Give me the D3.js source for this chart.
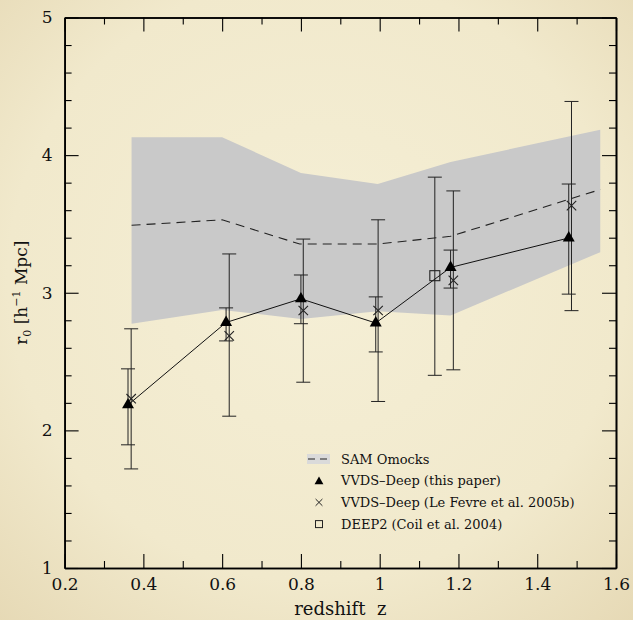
<!DOCTYPE html>
<html><head><meta charset="utf-8">
<script src="https://cdn.jsdelivr.net/npm/d3@7"></script>
<style>body{margin:0;background:#efe6c6;} svg{display:block} .ser{font-family:"DejaVu Serif","Liberation Serif",serif;}</style>
</head><body><svg id="c" width="633" height="620"></svg>
<script>
// ---- data ----
const zBand   = [0.37, 0.60, 0.80, 0.995, 1.18, 1.56];
const bandHi  = [4.13, 4.13, 3.87, 3.79, 3.95, 4.185];
const bandLo  = [2.775, 2.875, 2.81, 2.865, 2.835, 3.295];
const zSam    = [0.37, 0.60, 0.797, 0.995, 1.18, 1.56];
const samMed  = [3.49, 3.53, 3.354, 3.354, 3.41, 3.75];

const zTri    = [0.361, 0.610, 0.800, 0.990, 1.180, 1.480];
const r0Tri   = [2.185, 2.784, 2.956, 2.780, 3.184, 3.398];
const loTri   = [1.895, 2.650, 2.775, 2.570, 3.034, 2.990];
const hiTri   = [2.447, 2.890, 3.129, 2.970, 3.310, 3.790];

const zX      = [0.369, 0.618, 0.806, 0.996, 1.187, 1.487];
const r0X     = [2.230, 2.687, 2.871, 2.871, 3.090, 3.633];
const loX     = [1.720, 2.103, 2.350, 2.210, 2.440, 2.870];
const hiX     = [2.738, 3.282, 3.390, 3.530, 3.740, 4.390];

const zSq     = [1.140];
const r0Sq    = [3.124];
const loSq    = [2.400];
const hiSq    = [3.840];

const xMajor = [0.2, 0.4, 0.6, 0.8, 1.0, 1.2, 1.4, 1.6];
const xMinor = [0.3, 0.5, 0.7, 0.9, 1.1, 1.3, 1.5];
const yMajor = [1, 2, 3, 4, 5];
const yMinor = [1.2,1.4,1.6,1.8,2.2,2.4,2.6,2.8,3.2,3.4,3.6,3.8,4.2,4.4,4.6,4.8];

const legendLabels = ["SAM Omocks", "VVDS\u2013Deep (this paper)", "VVDS\u2013Deep (Le Fevre et al. 2005b)", "DEEP2 (Coil et al. 2004)"];

// ---- drawing ----
const W = 633, H = 620;
const L = 64.6, R = 616, T = 17.5, B = 568;
const svg = d3.select("#c");
const x = d3.scaleLinear().domain([0.2, 1.6]).range([L, R]);
const y = d3.scaleLinear().domain([1, 5]).range([B, T]);

const defs = svg.append("defs");
const rg = defs.append("radialGradient").attr("id","paper").attr("cx","50%").attr("cy","45%").attr("r","75%");
rg.append("stop").attr("offset","0%").attr("stop-color","#f5efd6");
rg.append("stop").attr("offset","65%").attr("stop-color","#f1e9cc");
rg.append("stop").attr("offset","100%").attr("stop-color","#e6d9b5");
svg.append("rect").attr("width",W).attr("height",H).attr("fill","url(#paper)");

// band
const band = zBand.map((z,i)=>({z, lo: bandLo[i], hi: bandHi[i]}));
svg.append("path").datum(band)
  .attr("d", d3.area().x(d=>x(d.z)).y0(d=>y(d.lo)).y1(d=>y(d.hi)))
  .attr("fill","#c9c9c9");

// SAM median dashed
svg.append("path").datum(zSam.map((z,i)=>[z, samMed[i]]))
  .attr("d", d3.line().x(d=>x(d[0])).y(d=>y(d[1])))
  .attr("fill","none").attr("stroke","#222").attr("stroke-width",1.1)
  .attr("stroke-dasharray","9,6");

// error bars helper
function errBars(zs, lo, hi, cap){
  const g = svg.append("g").attr("stroke","#222").attr("stroke-width",1).attr("fill","none");
  zs.forEach((z,i)=>{
    g.append("line").attr("x1",x(z)).attr("x2",x(z)).attr("y1",y(lo[i])).attr("y2",y(hi[i]));
    g.append("line").attr("x1",x(z)-cap).attr("x2",x(z)+cap).attr("y1",y(lo[i])).attr("y2",y(lo[i]));
    g.append("line").attr("x1",x(z)-cap).attr("x2",x(z)+cap).attr("y1",y(hi[i])).attr("y2",y(hi[i]));
  });
}
errBars(zX, loX, hiX, 7);
errBars(zSq, loSq, hiSq, 7);
errBars(zTri, loTri, hiTri, 7);

// connecting line through triangles
svg.append("path").datum(zTri.map((z,i)=>[z, r0Tri[i]]))
  .attr("d", d3.line().x(d=>x(d[0])).y(d=>y(d[1])))
  .attr("fill","none").attr("stroke","#111").attr("stroke-width",1);

// crosses
svg.append("g").selectAll("path").data(zX.map((z,i)=>[z, r0X[i]])).join("path")
  .attr("transform", d=>`translate(${x(d[0])},${y(d[1])})`)
  .attr("d", d3.symbol(d3.symbolTimes, 60)())
  .attr("fill","none").attr("stroke","#222").attr("stroke-width",1.1);

// square
svg.append("g").selectAll("rect").data(zSq.map((z,i)=>[z, r0Sq[i]])).join("rect")
  .attr("x", d=>x(d[0])-5).attr("y", d=>y(d[1])-5).attr("width",10).attr("height",10)
  .attr("fill","none").attr("stroke","#222").attr("stroke-width",1.1);

// triangles
svg.append("g").selectAll("path").data(zTri.map((z,i)=>[z, r0Tri[i]])).join("path")
  .attr("transform", d=>`translate(${x(d[0])},${y(d[1])})`)
  .attr("d", d3.symbol(d3.symbolTriangle, 62)())
  .attr("fill","#000");

// axes
function styleAxis(g){
  g.attr("font-family", null).attr("font-size", null);
  g.select(".domain").attr("stroke","#000").attr("stroke-width",1.6);
  g.selectAll(".tick line").attr("stroke","#000").attr("stroke-width",1.1);
  g.selectAll("text").attr("class","ser").style("font-size","17px").attr("fill","#111");
}
const fmt = d => d3.format("")(+d.toFixed(1));
svg.append("g").attr("transform",`translate(0,${B})`)
  .call(d3.axisBottom(x).tickValues(xMajor).tickSizeInner(-14).tickSizeOuter(0).tickPadding(10).tickFormat(fmt)).call(styleAxis);
svg.append("g").attr("transform",`translate(0,${B})`)
  .call(d3.axisBottom(x).tickValues(xMinor).tickSizeInner(-7).tickSizeOuter(0).tickFormat("")).call(styleAxis);
svg.append("g").attr("transform",`translate(0,${T})`)
  .call(d3.axisTop(x).tickValues(xMajor).tickSizeInner(-14).tickSizeOuter(0).tickFormat("")).call(styleAxis);
svg.append("g").attr("transform",`translate(0,${T})`)
  .call(d3.axisTop(x).tickValues(xMinor).tickSizeInner(-7).tickSizeOuter(0).tickFormat("")).call(styleAxis);
svg.append("g").attr("transform",`translate(${L},0)`)
  .call(d3.axisLeft(y).tickValues(yMajor).tickSizeInner(-14).tickSizeOuter(0).tickPadding(12).tickFormat(d3.format("d"))).call(styleAxis);
svg.append("g").attr("transform",`translate(${L},0)`)
  .call(d3.axisLeft(y).tickValues(yMinor).tickSizeInner(-7).tickSizeOuter(0).tickFormat("")).call(styleAxis);
svg.append("g").attr("transform",`translate(${R},0)`)
  .call(d3.axisRight(y).tickValues(yMajor).tickSizeInner(-14).tickSizeOuter(0).tickFormat("")).call(styleAxis);
svg.append("g").attr("transform",`translate(${R},0)`)
  .call(d3.axisRight(y).tickValues(yMinor).tickSizeInner(-7).tickSizeOuter(0).tickFormat("")).call(styleAxis);

// axis titles
svg.append("text").attr("class","ser").attr("x",(L+R)/2).attr("y",615).attr("text-anchor","middle")
  .style("font-size","18px").attr("fill","#111")
  .style("white-space","pre").text("redshift  z");

const yt = svg.append("text").attr("class","ser").attr("transform",`translate(27,${(T+B)/2}) rotate(-90)`)
  .attr("text-anchor","middle").style("font-size","17px").attr("fill","#111");
yt.append("tspan").text("r");
yt.append("tspan").style("font-size","11px").attr("dy",4).text("0");
yt.append("tspan").attr("dy",-4).text("\u00a0[h");
yt.append("tspan").style("font-size","11px").attr("dy",-7).text("\u22121");
yt.append("tspan").attr("dy",7).text("\u00a0Mpc]");

// legend
const lx = 319, ly0 = 459, ldy = 21.7, tx = 341;
const lg = svg.append("g");
lg.append("rect").attr("x",307).attr("y",ly0-5).attr("width",23).attr("height",10).attr("fill","#dadada");
lg.append("line").attr("x1",308).attr("x2",330).attr("y1",ly0).attr("y2",ly0)
  .attr("stroke","#222").attr("stroke-width",1.1).attr("stroke-dasharray","7,5");
lg.append("path").attr("transform",`translate(${lx},${ly0+ldy+1})`).attr("d", d3.symbol(d3.symbolTriangle, 34)()).attr("fill","#000");
lg.append("path").attr("transform",`translate(${lx},${ly0+2*ldy})`).attr("d", d3.symbol(d3.symbolTimes, 32)()).attr("fill","none").attr("stroke","#222").attr("stroke-width",1);
lg.append("rect").attr("x",lx-3.5).attr("y",ly0+3*ldy-3.5).attr("width",7).attr("height",7).attr("fill","none").attr("stroke","#222").attr("stroke-width",1);
legendLabels.forEach((t,i)=>{
  lg.append("text").attr("class","ser").attr("x",tx).attr("y",ly0+i*ldy+4.5).style("font-size","13px").attr("fill","#111").text(t);
});
</script></body></html>
